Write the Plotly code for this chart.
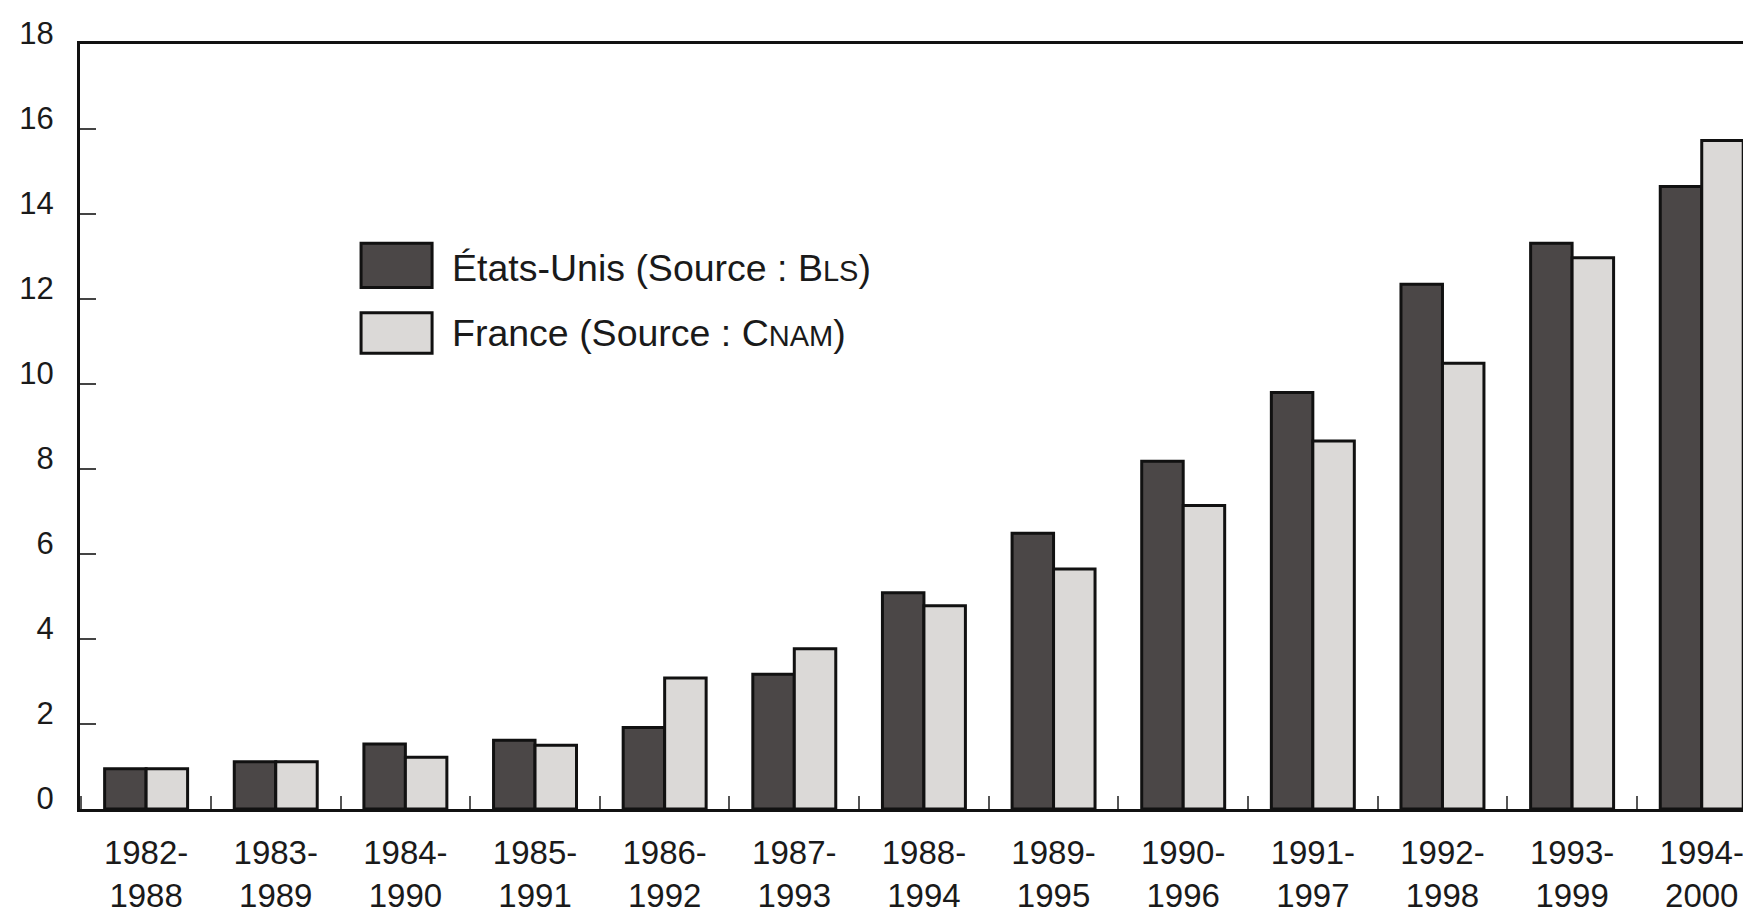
import plotly.graph_objects as go

categories = ["1982-<br>1988", "1983-<br>1989", "1984-<br>1990", "1985-<br>1991", "1986-<br>1992",
              "1987-<br>1993", "1988-<br>1994", "1989-<br>1995", "1990-<br>1996", "1991-<br>1997",
              "1992-<br>1998", "1993-<br>1999", "1994-<br>2000"]
us_values = [0.95, 1.11, 1.53, 1.62, 1.92, 3.17, 5.09, 6.49, 8.18, 9.80, 12.35, 13.31, 14.65]
fr_values = [0.95, 1.11, 1.22, 1.50, 3.08, 3.77, 4.78, 5.65, 7.14, 8.66, 10.49, 12.97, 15.73]
y_ticks = [0, 2, 4, 6, 8, 10, 12, 14, 16, 18]
us_name = "États-Unis (Source : B<span style='font-size:29px'>LS</span>)"
fr_name = "France (Source : C<span style='font-size:29px'>NAM</span>)"

US_COLOR = "#4b4747"
FR_COLOR = "#dbd9d7"
SANS = "Liberation Sans, Arial, Helvetica, sans-serif"

fig = go.Figure()
fig.add_trace(go.Bar(x=categories, y=us_values, name=us_name,
                     marker=dict(color=US_COLOR, line=dict(color="#111111", width=3))))
fig.add_trace(go.Bar(x=categories, y=fr_values, name=fr_name,
                     marker=dict(color=FR_COLOR, line=dict(color="#111111", width=3))))

fig.update_layout(
    width=1743, height=906,
    margin=dict(l=72, r=0, t=36, b=91),
    paper_bgcolor="white", plot_bgcolor="white",
    barmode="group", bargap=0.36, bargroupgap=0.0,
    showlegend=False,
    font=dict(family=SANS, color="#1a1a1a"),
)
fig.update_xaxes(
    range=[-0.51, 12.38],
    showline=True, linecolor="#111111", linewidth=3, mirror=True,
    ticks="inside", tickson="boundaries", ticklen=13, tickwidth=1.5, tickcolor="#555555",
    tickfont=dict(family=SANS, size=33, color="#1a1a1a"),
    ticklabelstandoff=12,
    showgrid=False, zeroline=False,
)
fig.update_yaxes(
    range=[0, 18], tickvals=y_ticks, ticktext=[str(v) for v in y_ticks],
    showline=True, linecolor="#111111", linewidth=3,
    ticks="inside", ticklen=16, tickwidth=1.5, tickcolor="#444444",
    tickfont=dict(family=SANS, size=31, color="#1a1a1a"),
    ticklabelstandoff=17, ticklabelshift=-11,
    showgrid=False, zeroline=False,
)

# legend drawn as swatches + labels
legend_items = [(us_name, US_COLOR, 0.6816, 0.7395, 0.7078), (fr_name, FR_COLOR, 0.5959, 0.6486, 0.6216)]
for name, color, y0, y1, ty in legend_items:
    fig.add_shape(type="rect", xref="paper", yref="paper", x0=0.1682, x1=0.2107, y0=y0, y1=y1,
                  fillcolor=color, line=dict(color="#111111", width=3))
    fig.add_annotation(xref="paper", yref="paper", x=0.2214, y=ty, xanchor="left", yanchor="middle",
                       text=name, showarrow=False, font=dict(family=SANS, size=37.5, color="#1a1a1a"))

fig.write_html("out.html")
